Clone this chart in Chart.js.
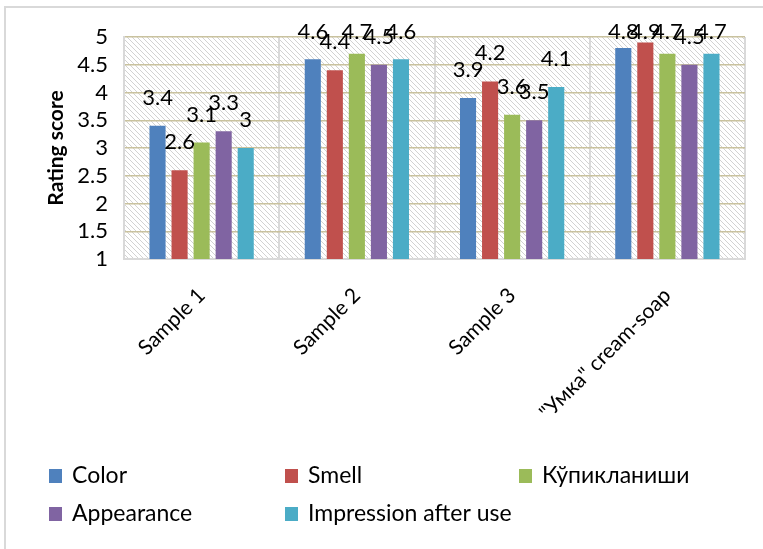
<!DOCTYPE html>
<html>
<head>
<meta charset="utf-8">
<script src="https://cdn.jsdelivr.net/npm/chart.js@4.4.1/dist/chart.umd.min.js"></script>
<style>
  html, body { margin: 0; padding: 0; background: #ffffff; }
  #wrap { width: 763px; height: 549px; }
</style>
</head>
<body>
<div id="wrap"><canvas id="c" width="763" height="549"></canvas></div>
<script>
// Products that were rated
const categories = ['Sample 1', 'Sample 2', 'Sample 3', '"Умка" cream-soap'];

// Rating score per criterion, one value per product
const colorScores      = [3.4, 4.6, 3.9, 4.8];
const smellScores      = [2.6, 4.4, 4.2, 4.9];
const foamScores       = [3.1, 4.7, 3.6, 4.7];
const appearanceScores = [3.3, 4.5, 3.5, 4.5];
const impressionScores = [3.0, 4.6, 4.1, 4.7];

const seriesNames  = ['Color', 'Smell', 'Кўпикланиши', 'Appearance', 'Impression after use'];
const seriesColors = ['#4F81BD', '#C0504D', '#9BBB59', '#8064A2', '#4BACC6'];

// Value axis range
const yMin = 1;
const yMax = 5;
const yStep = 0.5;

const FONT = 'Lato, "Noto Sans", sans-serif';

// Diagonal hatch used as the plot-area fill
function makeHatch() {
  const t = document.createElement('canvas');
  t.width = 5; t.height = 5;
  const g = t.getContext('2d');
  g.strokeStyle = '#d2d2d2';
  g.lineWidth = 1;
  g.beginPath();
  g.moveTo(-1, -1); g.lineTo(6, 6);
  g.moveTo(-1, 4); g.lineTo(1, 6);
  g.moveTo(4, -1); g.lineTo(6, 1);
  g.stroke();
  return t;
}

const backdropPlugin = {
  id: 'backdrop',
  beforeDraw(chart) {
    const ctx = chart.ctx;
    const a = chart.chartArea;
    ctx.save();
    // outer frame (left and top edges)
    ctx.strokeStyle = '#d9d9d9';
    ctx.lineWidth = 2;
    ctx.beginPath();
    ctx.moveTo(5, chart.height);
    ctx.lineTo(5, 7);
    ctx.lineTo(chart.width, 7);
    ctx.stroke();
    // hatched plot area
    ctx.fillStyle = ctx.createPattern(makeHatch(), 'repeat');
    ctx.fillRect(a.left, a.top, a.right - a.left, a.bottom - a.top);
    ctx.restore();
  }
};

// Value written above every bar
const valueLabelPlugin = {
  id: 'valueLabels',
  afterDatasetsDraw(chart) {
    const ctx = chart.ctx;
    ctx.save();
    ctx.font = '22px ' + FONT;
    ctx.fillStyle = '#000000';
    ctx.textAlign = 'center';
    ctx.textBaseline = 'middle';
    chart.data.datasets.forEach((ds, i) => {
      const meta = chart.getDatasetMeta(i);
      meta.data.forEach((bar, j) => {
        const y = Math.max(bar.y - 28, 32);
        ctx.fillText(String(ds.data[j]), bar.x, y);
      });
    });
    ctx.restore();
  }
};

// Legend laid out as a three-column grid under the chart
const gridLegendPlugin = {
  id: 'gridLegend',
  afterDraw(chart) {
    const ctx = chart.ctx;
    const colX = [49, 285, 519];
    const rowY = [476, 514];
    ctx.save();
    ctx.font = '23px ' + FONT;
    ctx.textBaseline = 'middle';
    ctx.textAlign = 'left';
    chart.data.datasets.forEach((ds, i) => {
      const x = colX[i % 3];
      const y = rowY[Math.floor(i / 3)];
      ctx.fillStyle = ds.backgroundColor;
      ctx.fillRect(x, y - 7, 13, 14);
      ctx.fillStyle = '#000000';
      ctx.fillText(ds.label, x + 23, y);
    });
    ctx.restore();
  }
};

const seriesData = [colorScores, smellScores, foamScores, appearanceScores, impressionScores];

new Chart(document.getElementById('c'), {
  type: 'bar',
  data: {
    labels: categories,
    datasets: seriesNames.map((name, i) => ({
      label: name,
      data: seriesData[i],
      backgroundColor: seriesColors[i],
      borderWidth: 0,
      categoryPercentage: 0.71,
      barPercentage: 0.73
    }))
  },
  options: {
    responsive: false,
    animation: false,
    devicePixelRatio: 1,
    layout: { padding: { top: 37, left: 44, right: 18, bottom: 100 } },
    plugins: {
      legend: { display: false },
      tooltip: { enabled: false }
    },
    scales: {
      x: {
        offset: true,
        grid: { offset: true, color: '#d9d9d9', lineWidth: 2, drawTicks: false },
        border: { color: '#d9d9d9', width: 2 },
        ticks: {
          minRotation: 45, maxRotation: 45,
          padding: 24,
          color: '#000000',
          font: { family: FONT, size: 21 }
        },
        afterFit(scale) { scale.height = 190; }
      },
      y: {
        min: yMin, max: yMax,
        grid: { color: '#c9c29e', lineWidth: 1.5, drawTicks: false },
        border: { color: '#d9d9d9', width: 2 },
        ticks: {
          stepSize: yStep,
          autoSkip: false,
          padding: 16,
          color: '#000000',
          font: { family: FONT, size: 22 },
          callback: (v) => String(Math.round(v * 10) / 10)
        },
        title: {
          display: true,
          text: 'Rating score',
          color: '#000000',
          font: { family: FONT, size: 21, weight: 'bold' },
          padding: { top: 0, bottom: 0 }
        },
        afterFit(scale) { scale.width = 80; }
      }
    }
  },
  plugins: [backdropPlugin, valueLabelPlugin, gridLegendPlugin]
});
</script>
</body>
</html>
